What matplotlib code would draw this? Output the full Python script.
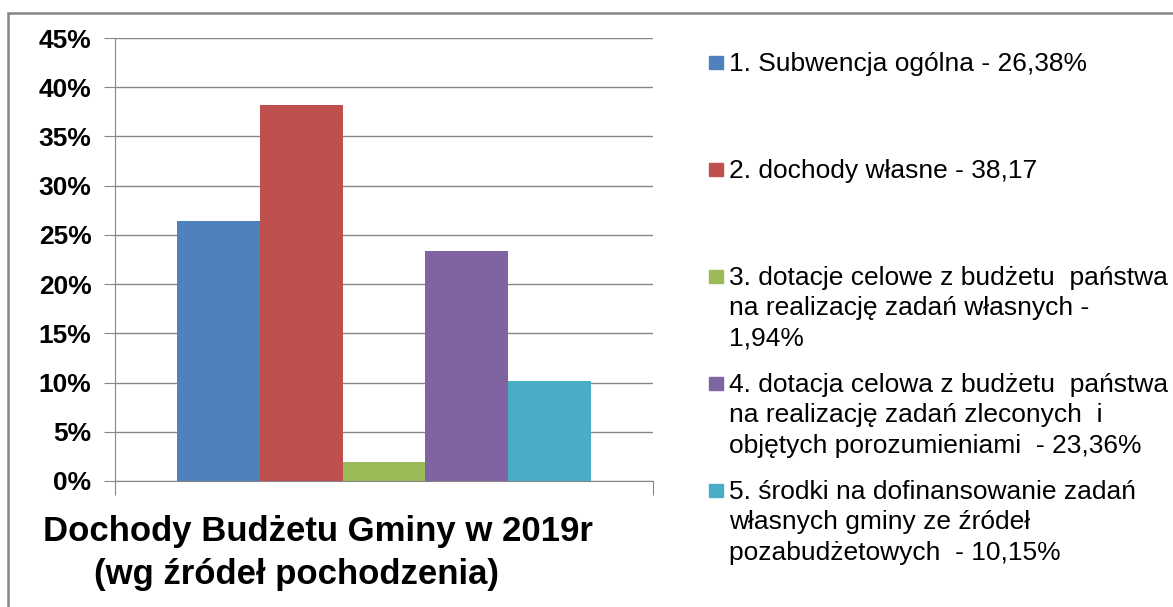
import matplotlib
matplotlib.use("Agg")
import matplotlib.pyplot as plt
from matplotlib.patches import Rectangle
from matplotlib.ticker import PercentFormatter

# ----------- Dane -----------
etykiety = [
    "1. Subwencja ogólna - 26,38%",
    "2. dochody własne - 38,17",
    "3. dotacje celowe z budżetu  państwa\nna realizację zadań własnych -\n1,94%",
    "4. dotacja celowa z budżetu  państwa\nna realizację zadań zleconych  i\nobjętych porozumieniami  - 23,36%",
    "5. środki na dofinansowanie zadań\nwłasnych gminy ze źródeł\npozabudżetowych  - 10,15%",
]
wartosci = [26.38, 38.17, 1.94, 23.36, 10.15]
kolory = ["#4F81BD", "#C0504D", "#9BBB59", "#8064A2", "#4BACC6"]
tytul = ["Dochody Budżetu Gminy w 2019r", "(wg źródeł pochodzenia)"]

plt.rcParams['font.family'] = ['Liberation Sans', 'DejaVu Sans']
W, H = 1173, 607
fig = plt.figure(figsize=(W / 100, H / 100), dpi=100)

# ramka wykresu
fig.patches.append(Rectangle((8 / W, -0.1), 1.2, (H - 13) / H + 0.1,
                             transform=fig.transFigure, fill=False,
                             edgecolor='#868686', lw=1.8))

ax = fig.add_axes([115 / W, 1 - 481 / H, 538 / W, 443 / H])
n = len(wartosci)
pozycje = [i - (n - 1) / 2 for i in range(n)]
ax.bar(pozycje, wartosci, width=1.0, color=kolory, zorder=2)

ax.set_xlim(-3.25, 3.25)
ax.set_ylim(0, 45)
ax.set_yticks(range(0, 46, 5))
ax.yaxis.set_major_formatter(PercentFormatter(decimals=0))
ax.set_xticks([-3.25, 3.25])
ax.set_xticklabels([])
ax.grid(axis='y', color='#868686', lw=1, zorder=0)
for s in ['top', 'right']:
    ax.spines[s].set_visible(False)
for s in ['left', 'bottom']:
    ax.spines[s].set_color('#868686')
ax.tick_params(axis='y', length=8, color='#868686', pad=9,
               labelsize=19)
ax.tick_params(axis='x', length=10, color='#868686')
for t in ax.get_yticklabels():
    t.set_fontweight('bold')

# tytuł pod wykresem
fig.text(318 / W, 1 - 541 / H, tytul[0], ha='center', va='baseline',
         fontsize=25, fontweight='bold')
fig.text(296 / W, 1 - 584 / H, tytul[1], ha='center', va='baseline',
         fontsize=25, fontweight='bold')

# legenda
for i, (lab, kol) in enumerate(zip(etykiety, kolory)):
    y = 72 + 107 * i
    fig.patches.append(Rectangle((709 / W, 1 - (y - 3) / H), 14 / W, 13 / H,
                                 transform=fig.transFigure, color=kol))
    fig.text(729 / W, 1 - (y - 20) / H, lab, ha='left', va='top',
             fontsize=19, linespacing=1.33)

fig.savefig("out.png", dpi=100)
